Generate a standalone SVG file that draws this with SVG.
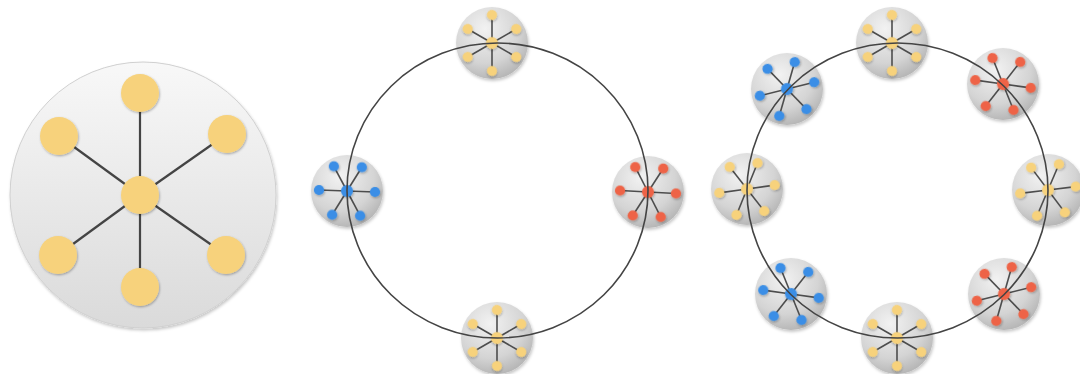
<svg xmlns="http://www.w3.org/2000/svg" xmlns:xlink="http://www.w3.org/1999/xlink" width="1080" height="374" viewBox="0 0 1080 374">
  <defs>
    <linearGradient id="bigGrad" x1="0" y1="0" x2="0" y2="1">
      <stop offset="0" stop-color="#f8f8f8"/>
      <stop offset="1" stop-color="#dadada"/>
    </linearGradient>
    <radialGradient id="diskGrad" cx="0.4" cy="0.3" r="0.8">
      <stop offset="0" stop-color="#f2f2f2"/>
      <stop offset="0.6" stop-color="#d4d4d4"/>
      <stop offset="1" stop-color="#ababab"/>
    </radialGradient>
    <filter id="shadow" x="-20%" y="-20%" width="140%" height="140%">
      <feDropShadow dx="1" dy="2" stdDeviation="1.5" flood-color="#000" flood-opacity="0.22"/>
    </filter>
    <filter id="dotShadow" x="-40%" y="-40%" width="180%" height="180%">
      <feDropShadow dx="0.8" dy="1.2" stdDeviation="0.8" flood-color="#000" flood-opacity="0.3"/>
    </filter>
    <circle id="disk" r="36" fill="url(#diskGrad)" filter="url(#shadow)"/>
    <g id="star">
      <g stroke="#4d4d4d" stroke-width="1.6">
        <line x1="0" y1="0" x2="28" y2="0"/>
        <line x1="0" y1="0" x2="14" y2="24.25"/>
        <line x1="0" y1="0" x2="-14" y2="24.25"/>
        <line x1="0" y1="0" x2="-28" y2="0"/>
        <line x1="0" y1="0" x2="-14" y2="-24.25"/>
        <line x1="0" y1="0" x2="14" y2="-24.25"/>
      </g>
      <g filter="url(#dotShadow)">
        <circle cx="28" cy="0" r="5.1"/>
        <circle cx="14" cy="24.25" r="5.1"/>
        <circle cx="-14" cy="24.25" r="5.1"/>
        <circle cx="-28" cy="0" r="5.1"/>
        <circle cx="-14" cy="-24.25" r="5.1"/>
        <circle cx="14" cy="-24.25" r="5.1"/>
        <circle cx="0" cy="0" r="6"/>
      </g>
    </g>
    <style>
      .ring { fill: none; stroke: #444; stroke-width: 1.6; }
      .spoke { stroke: #444; stroke-width: 2.2; }
      .bignode { fill: #f7d27c; filter: url(#dotShadow); }
    </style>
  </defs>

  <rect width="1080" height="374" fill="#ffffff"/>

  <!-- Left: single star cluster -->
  <g id="big-cluster">
    <circle cx="143" cy="195" r="133" fill="url(#bigGrad)" stroke="#d0d0d0" stroke-width="1" filter="url(#shadow)"/>
    <g>
      <line class="spoke" x1="140" y1="195" x2="140" y2="93"/>
      <line class="spoke" x1="140" y1="195" x2="59" y2="136"/>
      <line class="spoke" x1="140" y1="195" x2="227" y2="134"/>
      <line class="spoke" x1="140" y1="195" x2="58" y2="255"/>
      <line class="spoke" x1="140" y1="195" x2="226" y2="255"/>
      <line class="spoke" x1="140" y1="195" x2="140" y2="287"/>
    </g>
    <circle class="bignode" cx="140" cy="93" r="19"/>
    <circle class="bignode" cx="59" cy="136" r="19"/>
    <circle class="bignode" cx="227" cy="134" r="19"/>
    <circle class="bignode" cx="58" cy="255" r="19"/>
    <circle class="bignode" cx="226" cy="255" r="19"/>
    <circle class="bignode" cx="140" cy="287" r="19"/>
    <circle class="bignode" cx="140" cy="195" r="19"/>
  </g>

  <!-- Middle ring nodes -->
  <g id="m-top" transform="translate(492,43)">
    <use href="#disk"/>
    <use href="#star" fill="#f7d27c" transform="rotate(30)"/>
  </g>
  <g id="m-left" transform="translate(347,191)">
    <use href="#disk"/>
    <use href="#star" fill="#3a8ee6" transform="rotate(2)"/>
  </g>
  <g id="m-right" transform="translate(648,192)">
    <use href="#disk"/>
    <use href="#star" fill="#ee6446" transform="rotate(3)"/>
  </g>
  <g id="m-bottom" transform="translate(497,338)">
    <use href="#disk"/>
    <use href="#star" fill="#f7d27c" transform="rotate(30)"/>
  </g>

  <!-- Right ring nodes -->
  <g id="r-top" transform="translate(892,43)">
    <use href="#disk"/>
    <use href="#star" fill="#f7d27c" transform="rotate(30)"/>
  </g>
  <g id="r-topright" transform="translate(1003,84)">
    <use href="#disk"/>
    <use href="#star" fill="#ee6446" transform="rotate(8)"/>
  </g>
  <g id="r-right" transform="translate(1048,190)">
    <use href="#disk"/>
    <use href="#star" fill="#f7d27c" transform="rotate(-7)"/>
  </g>
  <g id="r-bottomright" transform="translate(1004,294)">
    <use href="#disk"/>
    <use href="#star" fill="#ee6446" transform="rotate(-14)"/>
  </g>
  <g id="r-bottom" transform="translate(897,338)">
    <use href="#disk"/>
    <use href="#star" fill="#f7d27c" transform="rotate(30)"/>
  </g>
  <g id="r-bottomleft" transform="translate(791,294)">
    <use href="#disk"/>
    <use href="#star" fill="#3a8ee6" transform="rotate(8)"/>
  </g>
  <g id="r-left" transform="translate(747,189)">
    <use href="#disk"/>
    <use href="#star" fill="#f7d27c" transform="rotate(-8)"/>
  </g>
  <g id="r-topleft" transform="translate(787,89)">
    <use href="#disk"/>
    <use href="#star" fill="#3a8ee6" transform="rotate(-14)"/>
  </g>

  <!-- Connectors: ring lines -->
  <g id="connectors">
    <ellipse class="ring" cx="497.5" cy="190.5" rx="150.5" ry="147.5"/>
    <ellipse class="ring" cx="897.5" cy="190.5" rx="150.5" ry="147.5"/>
  </g>
</svg>
